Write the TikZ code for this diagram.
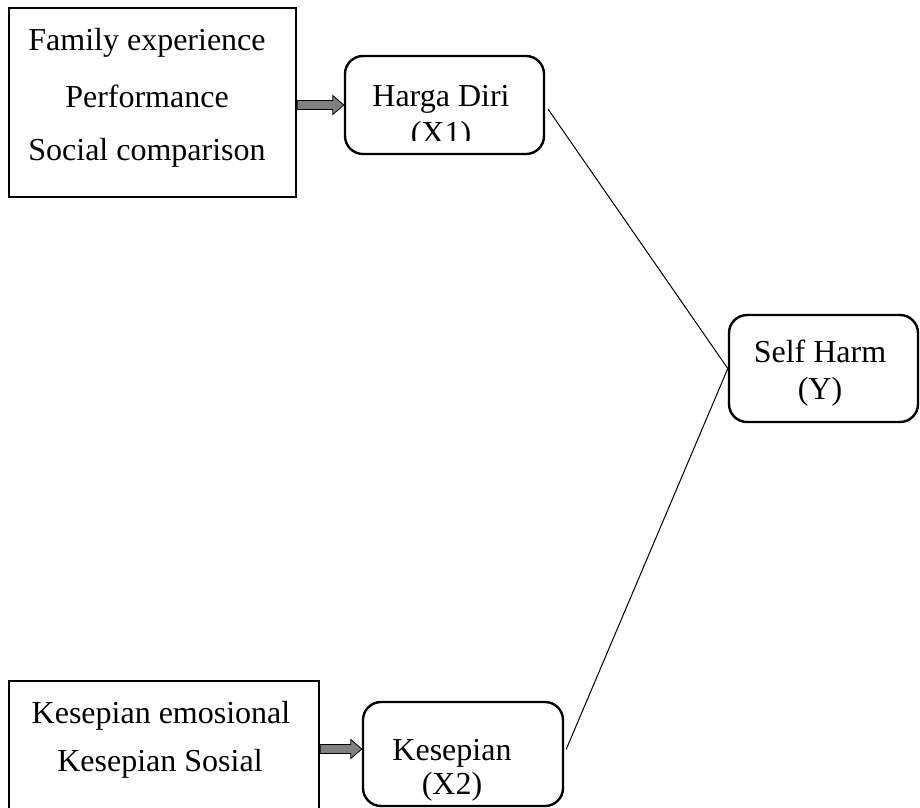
\documentclass[tikz,border=0pt]{standalone}
\usepackage{fontspec}
\setmainfont{Liberation Serif}
\usetikzlibrary{calc}

% fat grey arrow, drawn level with its second point
\newcommand{\blockarrow}[2]{%
  \draw[fatarrow] let \p1=#1, \p2=#2 in
    (\x1,\y2+4.5pt) -- (\x2-11pt,\y2+4.5pt) -- (\x2-11pt,\y2+9.5pt) -- (\x2,\y2)
    -- (\x2-11pt,\y2-9.5pt) -- (\x2-11pt,\y2-4.5pt) -- (\x1,\y2-4.5pt) -- cycle;}

\begin{document}
\begin{tikzpicture}[x=1pt,y=-1pt,font={\fontsize{32}{38}\selectfont},
  srcbox/.style={draw,line width=2.4pt,inner sep=0pt},
  varbox/.style={draw,line width=2.4pt,rounded corners=18pt,inner sep=0pt},
  txt/.style={anchor=base,inner sep=0pt},
  fatarrow/.style={draw=black,fill=black!50,line width=0.8pt},
  link/.style={line width=1pt,shorten <=5pt}]
  \clip (0,0) rectangle (920,807);
%  \draw[help lines] (0,0) grid[step=50] (920,807);
    \path (152.5,102.5) node(src1) [srcbox,minimum width=287pt,minimum height=189pt] {}
    (147,50) node(src1a) [txt] {Family experience}
    (147,107) node(src1b) [txt] {Performance}
    (147,160) node(src1c) [txt] {Social comparison};
    \path (164,760) node(src2) [srcbox,minimum width=310pt,minimum height=158pt] {}
    (161,723) node(src2a) [txt] {Kesepian emosional}
    (160,771) node(src2b) [txt] {Kesepian Sosial};
    \path (444.5,105) node(harga) [varbox,minimum width=199pt,minimum height=98pt] {}
    (441,106) node(harga1) [txt] {Harga Diri};
    \begin{scope}
      \clip (harga.north west) rectangle ([yshift=15pt]harga.south east);
      \path (441,143) node(harga2) [txt] {(X1)};
    \end{scope}
    \path (463,754) node(kes) [varbox,minimum width=200pt,minimum height=104pt] {}
    (452,760) node(kes1) [txt] {Kesepian}
    (452,794) node(kes2) [txt] {(X2)};
    \path (823.5,368.5) node(self) [varbox,minimum width=189pt,minimum height=107pt] {}
    (820,362) node(self1) [txt] {Self Harm}
    (820,399) node(self2) [txt] {(Y)};
    \blockarrow{(src1.east)}{(harga.west)}
    \blockarrow{(src2.east)}{([yshift=5pt]kes.west)}
    \draw[link] (harga.east) -- (self.west);
    \draw[link] (kes.east) -- (self.west);
  \end{tikzpicture}
\end{document}
